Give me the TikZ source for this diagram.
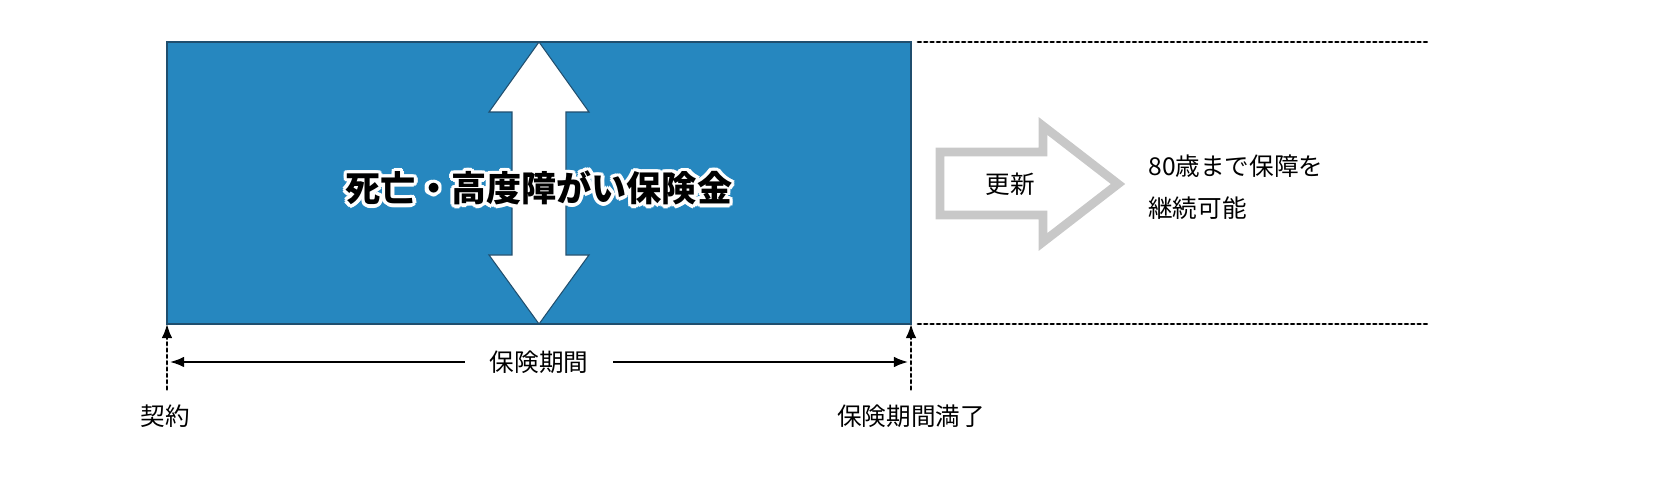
\documentclass[tikz,border=0pt]{standalone}
\usepackage{fontspec}
\setmainfont{Noto Sans CJK JP}
\usetikzlibrary{arrows.meta,positioning,calc}
\definecolor{planblue}{HTML}{2687BF}
\definecolor{planedge}{HTML}{1F4E6E}
\definecolor{renewgray}{HTML}{C8C8C8}
\tikzstyle{label} = [font=\fontsize{14}{17}\selectfont, inner sep=0pt]
\tikzstyle{dots} = [line width=1.6pt, dotted, line cap=round]
\tikzstyle{line} = [draw, line width=1pt, -{Latex[length=8pt,width=6pt]}]

\begin{document}
\begin{tikzpicture}[x=0.02cm, y=-0.02cm]
    \useasboundingbox (0,0) rectangle (1660,499);
    % Place term box
    \draw [fill=planblue, draw=planedge, line width=1pt] (167,42) rectangle (911,324);
    \coordinate (Start) at (167,324);
    \coordinate (End) at (911,324);
    \draw [fill=white, draw=planedge, line width=0.6pt]
        (539,42) -- (589,112) -- (566,112) -- (566,255) -- (589,255) -- (539,324)
        -- (489,255) -- (512,255) -- (512,112) -- (489,112) -- cycle;
    \foreach \a in {0,30,...,330}
        \node [font=\fontsize{20}{24}\bfseries, text=white, inner sep=0pt]
            at ($(539,188)+(\a:3.5)$) {死亡・高度障がい保険金};
    \node [font=\fontsize{20}{24}\bfseries, inner sep=0pt] (Benefit) at (539,188) {死亡・高度障がい保険金};
    % Dotted continuation
    \draw [dots] (918,42) -- (1430,42);
    \draw [dots] (918,324) -- (1430,324);
    % Renewal arrow
    \draw [fill=white, draw=renewgray, line width=5pt, line join=miter]
        (940,152) -- (1043,152) -- (1043,126) -- (1118,184) -- (1043,242)
        -- (1043,215) -- (940,215) -- cycle;
    \node [label] (Renew) at (1010,184) {更新};
    \node [label, anchor=west, align=left] (Cont) at (1148,187) {80歳まで保障を\\[7pt]継続可能};
    % Time axis
    \draw [dots] (167,336) -- (167,392);
    \draw [dots] (911,336) -- (911,392);
    \path [line] ($(Start)+(0,10)$) -- (Start);
    \path [line] ($(End)+(0,10)$) -- (End);
    \node [label, fill=white, inner xsep=14pt] (Period) at (539,362) {保険期間};
    \path [line] (Period.west) -- (170,362);
    \path [line] (Period.east) -- (908,362);
    \node [label] (Contract) at (165,416) {契約};
    \node [label] (Expiry) at (911,416) {保険期間満了};
\end{tikzpicture}
\end{document}
